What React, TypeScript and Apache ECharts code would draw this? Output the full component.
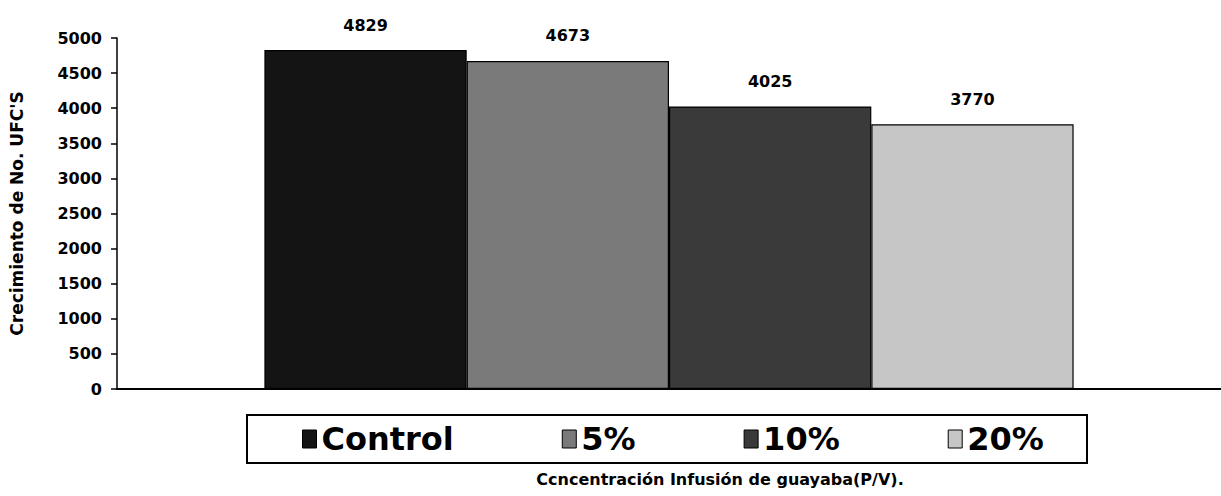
import React, { useEffect, useRef } from "react";
import * as echarts from "echarts";

const categories = [""];
const seriesNames = ["Control", "5%", "10%", "20%"];
const seriesValues = [4829, 4673, 4025, 3770];
const seriesColors = ["#141414", "#7a7a7a", "#3a3a3a", "#c6c6c6"];
const yTicks = { min: 0, max: 5000, interval: 500 };
const yTitle = "Crecimiento de No. UFC'S";
const xTitle = "Ccncentración Infusión de guayaba(P/V).";

const FONT = "DejaVu Sans";

export default function App() {
  const ref = useRef<HTMLDivElement>(null);
  useEffect(() => {
    if (!ref.current) return;
    const chart = echarts.init(ref.current, null, { renderer: "svg" });
    const series = seriesNames.map((name, i) => ({
      name,
      type: "bar",
      data: [seriesValues[i]],
      barGap: "0%",
      barCategoryGap: "26.7%",
      itemStyle: { color: seriesColors[i], borderColor: "#000", borderWidth: 1.2 },
      label: {
        show: true,
        position: "top",
        distance: 17,
        color: "#000",
        fontFamily: FONT,
        fontWeight: "bold",
        fontSize: 16,
      },
    }));
    chart.setOption({
      animation: false,
      backgroundColor: "#fff",
      grid: { left: 112, right: 0, top: 38, bottom: 107, containLabel: false },
      xAxis: {
        type: "category",
        data: categories,
        axisLine: { show: true, lineStyle: { color: "#000", width: 2 } },
        axisTick: { show: false },
        axisLabel: { show: false },
      },
      yAxis: {
        type: "value",
        min: yTicks.min,
        max: yTicks.max,
        interval: yTicks.interval,
        name: yTitle,
        nameLocation: "middle",
        nameGap: 92,
        nameRotate: 90,
        nameTextStyle: { fontFamily: FONT, fontWeight: "bold", fontSize: 17, color: "#000" },
        axisLine: { show: true, lineStyle: { color: "#000", width: 1.5 } },
        axisTick: { show: true, inside: false, length: 6, lineStyle: { color: "#000", width: 1.5 } },
        axisLabel: {
          margin: 15,
          fontFamily: FONT,
          fontWeight: "bold",
          fontSize: 16,
          color: "#000",
          formatter: (v: number) => String(v),
        },
        splitLine: { show: false },
      },
      legend: {
        data: seriesNames,
        left: 302,
        top: 422,
        padding: 0,
        itemGap: 108,
        itemWidth: 14,
        itemHeight: 18,
        icon: "rect",
        itemStyle: { borderColor: "#000", borderWidth: 1 },
        textStyle: { fontFamily: FONT, fontWeight: "bold", fontSize: 32, color: "#000", lineHeight: 34 },
      },
      graphic: [
        {
          type: "rect",
          shape: { x: 247, y: 415, width: 840, height: 48 },
          style: { fill: "none", stroke: "#000", lineWidth: 2 },
          z: 100,
        },
        {
          type: "text",
          x: 720,
          y: 479,
          style: {
            text: xTitle,
            fontFamily: FONT,
            fontWeight: "bold",
            fontSize: 16,
            fill: "#000",
            align: "center",
            verticalAlign: "middle",
          },
        },
      ],
      series,
    });
    return () => chart.dispose();
  }, []);
  return (
    <div
      ref={ref}
      style={{ position: "absolute", left: 0, top: 0, width: 1221, height: 496 }}
    />
  );
}
